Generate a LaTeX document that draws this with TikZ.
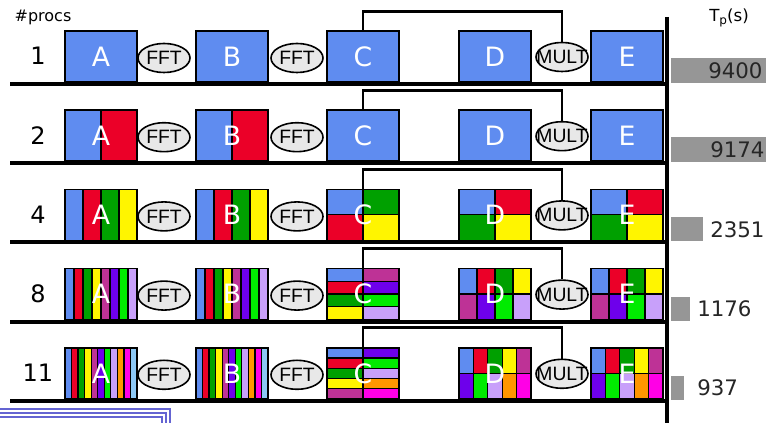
\documentclass[tikz,border=0pt]{standalone}
\usepackage{fontspec}
\setmainfont{DejaVu Sans}
\newfontfamily\opfont{Liberation Sans}
\usetikzlibrary{shapes.geometric}

\definecolor{pblue}{RGB}{95,140,240}
\definecolor{pred}{RGB}{235,0,40}
\definecolor{pgreen}{RGB}{0,160,0}
\definecolor{pyellow}{RGB}{255,245,0}
\definecolor{pplum}{RGB}{190,50,150}
\definecolor{pviolet}{RGB}{110,0,235}
\definecolor{plime}{RGB}{0,235,0}
\definecolor{plilac}{RGB}{200,160,250}
\definecolor{porange}{RGB}{255,150,0}
\definecolor{pmagenta}{RGB}{255,0,230}
\definecolor{psky}{RGB}{140,200,245}
\definecolor{tbar}{RGB}{150,150,150}
\definecolor{opfill}{RGB}{232,232,232}
\definecolor{winframe}{RGB}{100,100,210}

% cells of one block: left x, top y, width, height, cols, rows, colours row by row
\newcommand{\pgrid}[7]{%
  \foreach \cl [count=\i from 0] in {#7}{%
    \pgfmathtruncatemacro{\gcol}{mod(\i,#5)}%
    \pgfmathtruncatemacro{\grow}{div(\i,#5)}%
    \filldraw[\cl,draw=black,line width=0.9pt] ({#1+\gcol*#3/#5},{#2+\grow*#4/#6}) rectangle ++({#3/#5},{#4/#6});
  }%
}
% one block: name, left x, base line y, cols, rows, colours, letter
\newcommand{\blk}[7]{%
  \pgrid{#2}{#3-53}{72}{51}{#4}{#5}{#6}
  \node[blk] (#1) at ({#2+36},{#3-27.5}) {#7};
}

\begin{document}
\begin{tikzpicture}[x=0.75pt,y=0.75pt,yscale=-1,
  blk/.style={draw,line width=1.3pt,minimum width=54pt,minimum height=38.25pt,inner sep=0pt,text=white,font=\fontsize{20}{20}\selectfont},
  op/.style={ellipse,draw,line width=1.2pt,fill=opfill,minimum width=39pt,minimum height=21.75pt,inner sep=0pt,font=\opfont\fontsize{14.5}{14.5}\selectfont},
  procs/.style={font=\fontsize{18}{18}\selectfont},
  val/.style={anchor=west,inner sep=0pt,text=black!85,font=\fontsize{16}{16}\selectfont},
  rowline/.style={line width=3pt},
  link/.style={line width=2.2pt},
  winline/.style={winframe,line width=1.6pt}]

\useasboundingbox (0,0) rectangle (766,423);

%Shape: Blocks, 1 proc
\blk{a1}{65}{84}{1}{1}{pblue}{A}
\blk{b1}{196}{84}{1}{1}{pblue}{B}
\blk{c1}{327}{84}{1}{1}{pblue}{C}
\blk{d1}{459}{84}{1}{1}{pblue}{D}
\blk{e1}{591}{84}{1}{1}{pblue}{E}
%Shape: Blocks, 2 procs
\blk{a2}{65}{163.2}{2}{1}{pblue,pred}{A}
\blk{b2}{196}{163.2}{2}{1}{pblue,pred}{B}
\blk{c2}{327}{163.2}{1}{1}{pblue}{C}
\blk{d2}{459}{163.2}{1}{1}{pblue}{D}
\blk{e2}{591}{163.2}{1}{1}{pblue}{E}
%Shape: Blocks, 4 procs
\blk{a3}{65}{242.4}{4}{1}{pblue,pred,pgreen,pyellow}{A}
\blk{b3}{196}{242.4}{4}{1}{pblue,pred,pgreen,pyellow}{B}
\blk{c3}{327}{242.4}{2}{2}{pblue,pgreen,pred,pyellow}{C}
\blk{d3}{459}{242.4}{2}{2}{pblue,pred,pgreen,pyellow}{D}
\blk{e3}{591}{242.4}{2}{2}{pblue,pred,pgreen,pyellow}{E}
%Shape: Blocks, 8 procs
\blk{a4}{65}{321.6}{8}{1}{pblue,pred,pgreen,pyellow,pplum,pviolet,plime,plilac}{A}
\blk{b4}{196}{321.6}{8}{1}{pblue,pred,pgreen,pyellow,pplum,pviolet,plime,plilac}{B}
\blk{c4}{327}{321.6}{2}{4}{pblue,pplum,pred,pviolet,pgreen,plime,pyellow,plilac}{C}
\blk{d4}{459}{321.6}{4}{2}{pblue,pred,pgreen,pyellow,pplum,pviolet,plime,plilac}{D}
\blk{e4}{591}{321.6}{4}{2}{pblue,pred,pgreen,pyellow,pplum,pviolet,plime,plilac}{E}
%Shape: Blocks, 11 procs
\blk{a5}{65}{400.8}{11}{1}{pblue,pred,pgreen,pyellow,pplum,pviolet,plime,plilac,porange,pmagenta,psky}{A}
\blk{b5}{196}{400.8}{11}{1}{pblue,pred,pgreen,pyellow,pplum,pviolet,plime,plilac,porange,pmagenta,psky}{B}
\blk{c5}{327}{400.8}{2}{5}{pblue,pviolet,pred,plime,pgreen,plilac,pyellow,porange,pplum,pmagenta}{C}
\blk{d5}{459}{400.8}{5}{2}{pblue,pred,pgreen,pyellow,pplum,pviolet,plime,plilac,porange,pmagenta}{D}
\blk{e5}{591}{400.8}{5}{2}{pblue,pred,pgreen,pyellow,pplum,pviolet,plime,plilac,porange,pmagenta}{E}

% Rows: base line, count, FFT, FFT, MULT
\foreach \r/\y/\p in {1/84/1,2/163.2/2,3/242.4/4,4/321.6/8,5/400.8/11}{
  \draw[rowline] (10,\y) -- (667,\y);
  \node[procs] (n\r) at (38,\y-28) {\p};
  \node[op] (fa\r) at (164,\y-26) {FFT};
  \node[op] (fb\r) at (297,\y-26) {FFT};
  \node[op] (m\r) at (562,\y-27) {\makebox[0pt]{MULT}};
  \draw[link] (c\r.north) -- ++(0,-19) -| (m\r.north);
}

%Straight Lines: time axis
\draw[line width=3.5pt] (667,17) -- (667,423);

%Shape: Time bars
\fill[tbar] (671,58) rectangle (766,83);
\fill[tbar] (671,137.2) rectangle (766,162.2);
\fill[tbar] (671,217.4) rectangle (703,241.4);
\fill[tbar] (671,296.6) rectangle (690,320.6);
\fill[tbar] (671,375.8) rectangle (684,399.8);

% Text Node
\node[val] (v1) at (708,71) {9400};
% Text Node
\node[val] (v2) at (710,150.2) {9174};
% Text Node
\node[val] (v3) at (710,229.4) {2351};
% Text Node
\node[val] (v4) at (697,308.6) {1176};
% Text Node
\node[val] (v5) at (697,387.8) {937};
% Text Node
\node[font=\fontsize{12}{12}\selectfont] (hp) at (43,17) {\#procs};
% Text Node
\node[font=\fontsize{12.5}{12.5}\selectfont] (ht) at (729,18) {T\raisebox{-0.35ex}{\fontsize{9}{9}\selectfont p}(s)};

%Straight Lines: window frame
\draw[winline] (0,409) -- (170,409) -- (170,423);
\draw[winline] (0,413) -- (166,413) -- (166,423);
\draw[winline] (0,417) -- (162,417) -- (162,423);

\end{tikzpicture}
\end{document}
